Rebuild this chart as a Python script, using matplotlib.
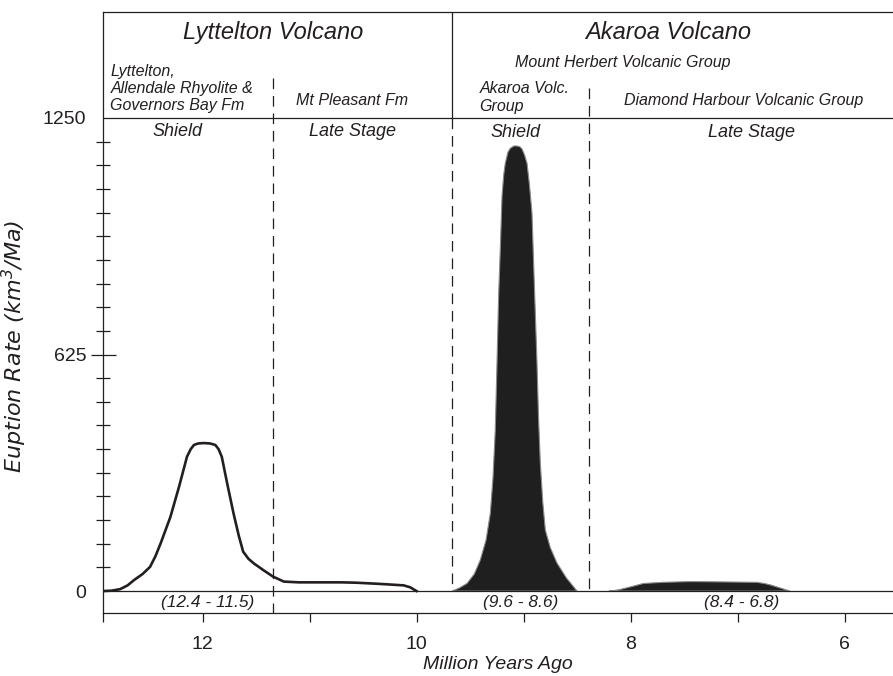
import numpy as np
import matplotlib
matplotlib.use("Agg")
import matplotlib.pyplot as plt
from matplotlib.ticker import FixedLocator

plt.rcParams['font.family'] = ['Liberation Sans', 'DejaVu Sans']
plt.rcParams['mathtext.fontset'] = 'custom'
plt.rcParams['mathtext.rm'] = 'DejaVu Sans:italic'
plt.rcParams['mathtext.it'] = 'DejaVu Sans:italic'

ink = "#231f20"

# Lyttelton shield + late stage (outline only)
lyt_age = [12.93, 12.85, 12.77, 12.70, 12.64, 12.56, 12.49, 12.44, 12.39, 12.30,
           12.22, 12.145, 12.11, 12.08, 12.04, 11.99, 11.93, 11.88, 11.85, 11.82,
           11.77, 11.71, 11.66, 11.62, 11.57, 11.52, 11.43, 11.34, 11.24, 11.10,
           10.90, 10.70, 10.56, 10.35, 10.12, 10.06, 10.00]
lyt_rate = [0, 1, 5, 15, 29, 45, 64, 92, 127, 196,
            275, 355, 375, 386, 390, 391, 390, 386, 375, 355,
            285, 205, 145, 104, 85, 73, 55, 38, 25, 23,
            23, 23, 22, 19, 15, 10, 0]

# Akaroa shield (filled)
ak_age = [9.668, 9.60, 9.528, 9.46, 9.404, 9.35, 9.31, 9.285, 9.264, 9.248,
          9.233, 9.215, 9.201, 9.185, 9.170, 9.145, 9.123, 9.09, 9.061, 9.035,
          9.014, 8.99, 8.967, 8.945, 8.921, 8.90, 8.874, 8.86, 8.843, 8.82,
          8.796, 8.75, 8.687, 8.60, 8.50]
ak_rate = [0, 8, 20, 45, 82, 135, 206, 300, 425, 600,
           778, 920, 1042, 1100, 1131, 1160, 1170, 1176, 1176, 1174,
           1168, 1152, 1130, 1075, 999, 820, 603, 460, 338, 235,
           161, 115, 74, 35, 0]

# Akaroa late stage (filled)
dh_age = [8.20, 8.16, 8.10, 8.00, 7.88, 7.70, 7.44, 7.10, 6.82, 6.75, 6.69, 6.60, 6.51]
dh_rate = [0, 1, 4, 11, 20, 23, 25, 24, 23, 20, 16, 8, 0]

x_left, x_right = 12.93, 5.547
y_bot, y_top = -58, 1530
y_head = 1250

fig = plt.figure(figsize=(8.93, 6.76), dpi=100)
ax = fig.add_axes([103/893, 63/676, 790/893, 601/676])
ax.set_xlim(x_left, x_right)
ax.set_ylim(y_bot, y_top)

for s in ["left", "top", "bottom"]:
    ax.spines[s].set_color(ink)
    ax.spines[s].set_linewidth(0.9)
ax.spines["right"].set_visible(False)

ax.axhline(0, color=ink, lw=0.9)
ax.axhline(y_head, color=ink, lw=0.9)
ax.plot([9.665, 9.665], [y_head, y_top], color=ink, lw=0.9)

dash = (0, (8.5, 5.5))
ax.plot([11.34, 11.34], [1356, y_bot], color=ink, lw=0.9, ls=dash)
ax.plot([9.665, 9.665], [y_head, 0], color=ink, lw=0.9, ls=dash)
ax.plot([8.39, 8.39], [1329, 0], color=ink, lw=0.9, ls=dash)

ax.plot(lyt_age, lyt_rate, color=ink, lw=1.9, solid_joinstyle="round")
ax.fill(ak_age, ak_rate, facecolor="#1f1f1f", edgecolor="#8a8a8a", lw=0.8)
ax.fill(dh_age, dh_rate, facecolor="#1f1f1f", edgecolor="#8a8a8a", lw=0.8)

# ticks
ax.yaxis.set_major_locator(FixedLocator([0, 625, 1250]))
ax.yaxis.set_minor_locator(FixedLocator([62.5 * i for i in range(1, 20) if i != 10]))
ax.tick_params(axis="y", which="major", direction="inout", length=18, width=0.9,
               color=ink, labelsize=14, labelcolor=ink, pad=3)
ax.tick_params(axis="y", which="minor", direction="inout", length=10.5, width=0.9, color=ink)
yt = ax.yaxis.get_major_ticks()
yt[0].tick1line.set_visible(False)
yt[2].tick1line.set_visible(False)

ax.xaxis.set_major_locator(FixedLocator([12, 10, 8, 6]))
ax.xaxis.set_minor_locator(FixedLocator([x_left, 11, 9, 7]))
ax.tick_params(axis="x", which="both", direction="out", length=6.5, width=0.9,
               color=ink, labelsize=14, labelcolor=ink, pad=10)

ax.set_xlabel("Million Years Ago", fontsize=14, style="italic", color=ink)
ax.xaxis.set_label_coords(0.5, -0.071)
ax.set_ylabel("Euption Rate (km$^{3}$/Ma)", fontsize=16, style="italic", color=ink,
              family="DejaVu Sans")
ax.yaxis.set_label_coords(-0.094, 0.443)

# header texts
def lab(x, y, s, size, ha="center", **kw):
    ax.text(x, y, s, fontsize=size, style="italic", color=ink, ha=ha, va="center", **kw)

lab(11.34, 1475, "Lyttelton Volcano", 17)
lab(7.647, 1475, "Akaroa Volcano", 17)
lab(8.072, 1397, "Mount Herbert Volcanic Group", 11.5)
lab(12.86, 1327, "Lyttelton,\nAllendale Rhyolite &\nGovernors Bay Fm", 11.5, ha="left",
    linespacing=1.18)
lab(10.60, 1295, "Mt Pleasant Fm", 11.5)
lab(9.41, 1304, "Akaroa Volc.\nGroup", 11.5, ha="left", linespacing=1.18)
lab(6.94, 1295, "Diamond Harbour Volcanic Group", 11.5)
lab(12.235, 1213, "Shield", 13)
lab(10.60, 1213, "Late Stage", 13)
lab(9.077, 1211, "Shield", 13)
lab(6.87, 1211, "Late Stage", 13)

lab(11.95, -29, "(12.4 - 11.5)", 12.5)
lab(9.03, -29, "(9.6 - 8.6)", 12.5)
lab(6.96, -29, "(8.4 - 6.8)", 12.5)

fig.savefig("out.png", dpi=100)
